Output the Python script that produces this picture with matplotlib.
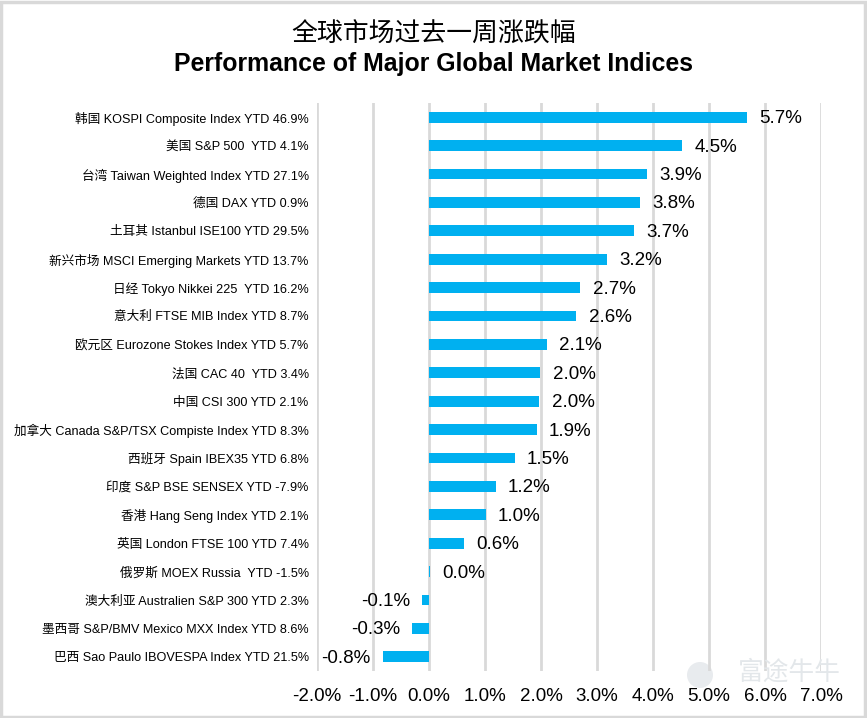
import matplotlib
matplotlib.use("Agg")
import matplotlib.pyplot as plt
from matplotlib.patches import Rectangle, Ellipse

categories = [
    "韩国 KOSPI Composite Index YTD 46.9%",
    "美国 S&P 500  YTD 4.1%",
    "台湾 Taiwan Weighted Index YTD 27.1%",
    "德国 DAX YTD 0.9%",
    "土耳其 Istanbul ISE100 YTD 29.5%",
    "新兴市场 MSCI Emerging Markets YTD 13.7%",
    "日经 Tokyo Nikkei 225  YTD 16.2%",
    "意大利 FTSE MIB Index YTD 8.7%",
    "欧元区 Eurozone Stokes Index YTD 5.7%",
    "法国 CAC 40  YTD 3.4%",
    "中国 CSI 300 YTD 2.1%",
    "加拿大 Canada S&P/TSX Compiste Index YTD 8.3%",
    "西班牙 Spain IBEX35 YTD 6.8%",
    "印度 S&P BSE SENSEX YTD -7.9%",
    "香港 Hang Seng Index YTD 2.1%",
    "英国 London FTSE 100 YTD 7.4%",
    "俄罗斯 MOEX Russia  YTD -1.5%",
    "澳大利亚 Australien S&P 300 YTD 2.3%",
    "墨西哥 S&P/BMV Mexico MXX Index YTD 8.6%",
    "巴西 Sao Paulo IBOVESPA Index YTD 21.5%",
]
values = [5.68, 4.52, 3.90, 3.76, 3.66, 3.18, 2.70, 2.63, 2.10, 1.99,
          1.97, 1.92, 1.53, 1.19, 1.01, 0.62, 0.02, -0.12, -0.30, -0.82]
xticks = [-2, -1, 0, 1, 2, 3, 4, 5, 6, 7]

W, H = 867, 718
fig = plt.figure(figsize=(W / 100, H / 100), dpi=100)
fig.patch.set_facecolor("white")

# figure border
fig.add_artist(Rectangle((1 / W, 1 / H), 1 - 3 / W, 1 - 3 / H, transform=fig.transFigure,
                         fill=False, edgecolor="#D9D9D9", linewidth=2.5))

# watermark (drawn first, behind everything)
fig.add_artist(Ellipse((700 / W, 1 - 675 / H), 26 / W, 26 / H, transform=fig.transFigure,
                       facecolor="#E8EBEE", edgecolor="none", zorder=0))
fig.text(789 / W, 1 - 673 / H, "富途牛牛", ha="center", va="center", fontsize=18.5,
         color="#E3E7EA", family=["Noto Sans CJK SC"], zorder=0)

left, right = 317 / W, 821 / W
top, bottom = 1 - 103 / H, 1 - 671 / H
ax = fig.add_axes([left, bottom, right - left, top - bottom])
ax.patch.set_alpha(0)

latin_cjk = ["Liberation Sans", "Noto Sans CJK SC"]
n = len(values)
ypos = list(range(n))
ax.barh(ypos, values, height=0.38, color="#00B0F0", zorder=3)
ax.set_ylim(n - 0.5, -0.5)
ax.set_xlim(-2, 7)
ax.set_xticks(xticks)
ax.set_xticklabels([f"{t:.1f}%" for t in xticks], fontsize=13.5, family="Liberation Sans")
ax.set_yticks(ypos)
ax.set_yticklabels(categories, fontsize=9.1, family=latin_cjk)
ax.tick_params(axis="both", length=0)
ax.tick_params(axis="x", pad=12)
ax.tick_params(axis="y", pad=6)
for s in ax.spines.values():
    s.set_visible(False)
ax.xaxis.grid(True, color="#D9D9D9", linewidth=2, zorder=0)
ax.yaxis.grid(False)

for y, v in zip(ypos, values):
    lbl = f"{v:.1f}%"
    if v >= 0:
        ax.text(v + 0.22, y + 0.05, lbl, va="center", ha="left", fontsize=13.5,
                family="Liberation Sans", zorder=4)
    else:
        ax.text(v - 0.22, y + 0.05, lbl, va="center", ha="right", fontsize=13.5,
                family="Liberation Sans", zorder=4)

fig.text(0.5, 1 - 34 / H, "全球市场过去一周涨跌幅", ha="center", va="center",
         fontsize=18.6, family=["Noto Sans CJK SC"])
fig.text(0.5, 1 - 64 / H, "Performance of Major Global Market Indices", ha="center",
         va="center", fontsize=17.9, fontweight="bold", family="Liberation Sans")

fig.savefig("out.png", dpi=100, facecolor="white")
